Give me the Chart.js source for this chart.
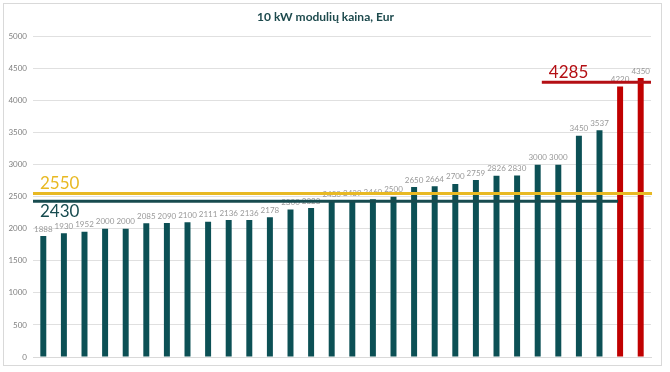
<!DOCTYPE html>
<html>
<head>
<meta charset="utf-8">
<script src="https://cdn.jsdelivr.net/npm/chart.js@4"></script>
<style>
  body { margin: 0; background: #fff; }
  #frame { position: absolute; left: 3px; top: 3px; width: 657px; height: 361px; border: 1px solid #d9d9d9; }
  #c { position: absolute; left: 0; top: 0; }
</style>
</head>
<body>
<div id="frame"></div>
<canvas id="c" width="670" height="372"></canvas>
<script>
const prices = [1888, 1930, 1952, 2000, 2000, 2085, 2090, 2100, 2111, 2136, 2136, 2178, 2300, 2323, 2430,
    2439, 2460, 2500, 2650, 2664, 2700, 2759, 2826, 2830, 3000, 3000, 3450, 3537, 4220, 4350];
const categories = prices.map((_, i) => String(i + 1));
const highlighted = [28, 29];
const yTicks = [0, 500, 1000, 1500, 2000, 2500, 3000, 3500, 4000, 4500, 5000];

// reference lines: value, start and end in category units
const refValues = [2550, 2430, 4285];
const refFrom = [-0.5, -0.5, 24.2];
const refTo = [29.55, 27.9, 29.5];
const refColors = ['#e8b923', '#174b4f', '#b40f14'];

const TEAL = '#0c5055';
const RED = '#c00000';

const overlay = {
    id: 'overlay',
    afterDatasetsDraw(chart) {
        const ctx = chart.ctx;
        const meta = chart.getDatasetMeta(0);
        ctx.save();
        ctx.font = '8px Lato';
        ctx.fillStyle = '#999999';
        ctx.textAlign = 'center';
        ctx.textBaseline = 'bottom';
        meta.data.forEach((bar, i) => {
            ctx.fillText(prices[i], bar.x, bar.y - 3);
        });

        const x = chart.scales.x, y = chart.scales.y;
        const step = x.getPixelForValue(1) - x.getPixelForValue(0);
        refValues.forEach((v, i) => {
            const py = y.getPixelForValue(v);
            const x0 = x.getPixelForValue(0) + refFrom[i] * step;
            const x1 = x.getPixelForValue(0) + refTo[i] * step;
            ctx.strokeStyle = refColors[i];
            ctx.lineWidth = 3;
            ctx.beginPath();
            ctx.moveTo(x0, py);
            ctx.lineTo(x1, py);
            ctx.stroke();
            ctx.font = '17px Lato';
            ctx.fillStyle = refColors[i];
            ctx.textAlign = 'left';
            if (i === 1) {
                ctx.textBaseline = 'top';
                ctx.fillText(v, x0 + 7, py + 2);
            } else {
                ctx.textBaseline = 'bottom';
                ctx.fillText(v, x0 + 7, py - 1);
            }
        });
        ctx.restore();
    }
};

new Chart(document.getElementById('c'), {
    type: 'bar',
    data: {
        labels: categories,
        datasets: [{
            data: prices,
            backgroundColor: prices.map((_, i) => highlighted.includes(i) ? RED : TEAL),
            barPercentage: 0.29,
            categoryPercentage: 1
        }]
    },
    options: {
        responsive: false,
        animation: false,
        layout: { padding: { left: 0, right: 19, top: 0, bottom: 15 } },
        plugins: {
            legend: { display: false },
            tooltip: { enabled: false },
            title: {
                display: true,
                text: '10 kW modulių kaina, Eur',
                color: '#1d4a4d',
                font: { family: 'Lato', size: 12, weight: 'bold' },
                padding: { top: 10, bottom: 12 }
            }
        },
        scales: {
            x: {
                ticks: { display: false },
                grid: { display: false, drawTicks: false },
                border: { display: true, color: '#d9d9d9' }
            },
            y: {
                min: 0, max: 5000,
                afterBuildTicks: s => { s.ticks = yTicks.map(v => ({ value: v })); },
                afterFit: s => { s.width = 33; },
                ticks: { color: '#7f7f7f', font: { family: 'Lato', size: 8 }, padding: 6, callback: v => String(v) },
                grid: { color: '#e0e0e0', drawTicks: false },
                border: { display: false }
            }
        }
    },
    plugins: [overlay]
});
</script>
</body>
</html>
